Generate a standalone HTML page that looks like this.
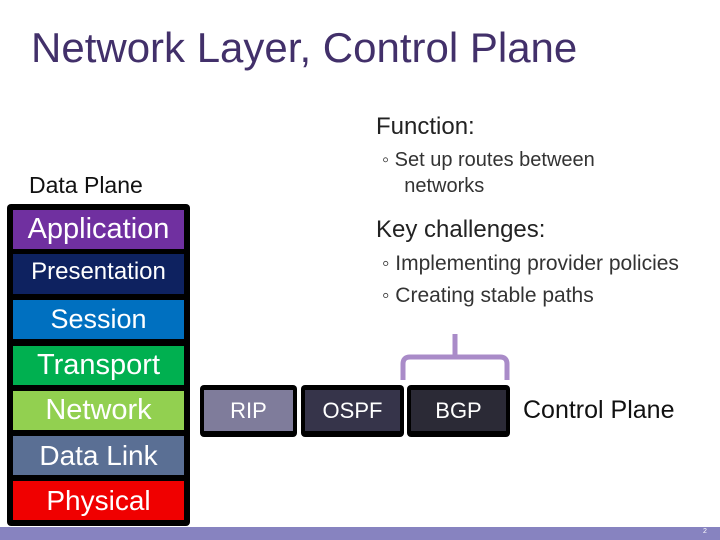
<!DOCTYPE html>
<html><head><style>
body{margin:0;width:720px;height:540px;position:relative;background:#fff;font-family:"Liberation Sans",sans-serif;overflow:hidden}
.a{position:absolute;white-space:nowrap}
.l{position:absolute;left:13px;width:171px;color:#fff;text-align:center;font-size:28px;line-height:39px}
.b{position:absolute;top:385px;height:52px;background:#000;border-radius:4px}
.b div{position:absolute;left:4px;right:4px;top:5px;bottom:6px;color:#fff;font-size:22px;text-align:center;line-height:41px}
</style></head><body>
<div class="a" style="left:31px;top:24px;font-size:42px;color:#42306a">Network Layer, Control Plane</div>
<div class="a" style="left:376px;top:113px;font-size:24px;color:#222">Function:</div>
<div class="a" style="left:382px;top:147px;font-size:20px;color:#333;line-height:26px">◦ Set up routes between<br>&nbsp;&nbsp;&nbsp;&nbsp;networks</div>
<div class="a" style="left:29px;top:172px;font-size:23px;color:#111">Data Plane</div>
<div class="a" style="left:376px;top:216px;font-size:24px;color:#222">Key challenges:</div>
<div class="a" style="left:382px;top:248px;font-size:21px;color:#333;line-height:32px">◦ Implementing provider policies<br>◦ Creating stable paths</div>
<div style="position:absolute;left:7px;top:204px;width:183px;height:322px;background:#000;border-radius:4px"></div>
<div class="l" style="top:210px;background:#7030a0;font-size:29px">Application</div>
<div class="l" style="top:254px;height:40px;background:#0e2260;font-size:24px;line-height:36px">Presentation</div>
<div class="l" style="top:300px;background:#0070c0;font-size:27px">Session</div>
<div class="l" style="top:346px;background:#00b050;font-size:29px">Transport</div>
<div class="l" style="top:391px;background:#92d050;font-size:29px">Network</div>
<div class="l" style="top:436px;background:#5a6f94">Data Link</div>
<div class="l" style="top:481px;background:#f00000">Physical</div>
<div class="b" style="left:200px;width:97px"><div style="background:#7f7c9b">RIP</div></div>
<div class="b" style="left:301px;width:103px"><div style="background:#36344a">OSPF</div></div>
<div class="b" style="left:407px;width:103px"><div style="background:#2b2a36">BGP</div></div>
<svg class="a" style="left:0;top:0" width="720" height="540"><path d="M403 380 V364 Q403 357 410 357 H500 Q507 357 507 364 V380 M455 357 V334" fill="none" stroke="#a98bc8" stroke-width="5"/></svg>
<div class="a" style="left:523px;top:396px;font-size:25px;color:#111">Control Plane</div>
<div style="position:absolute;left:0;top:527px;width:720px;height:13px;background:#8783c0"></div>
<div class="a" style="left:703px;top:528px;font-size:7px;color:#fff">2</div>
</body></html>
